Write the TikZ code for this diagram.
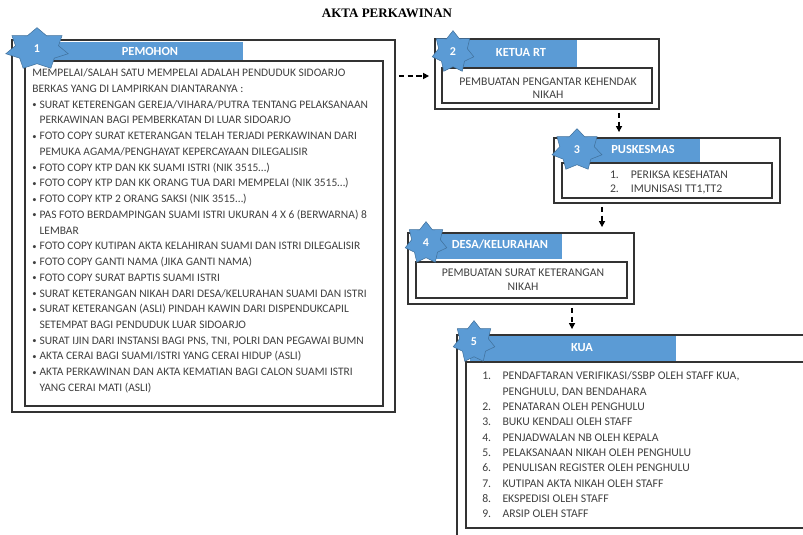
\documentclass[tikz,border=0pt]{standalone}
\usepackage{fontspec}
\setmainfont{Carlito}
\newfontfamily\judulfont{Liberation Serif}
\usetikzlibrary{shapes.geometric,fit,arrows.meta}
\definecolor{biru}{HTML}{5B9BD5}
\definecolor{birutua}{HTML}{41719C}
\definecolor{teks}{HTML}{404040}
\newcommand\bul{\makebox[5.5pt][l]{\raisebox{0.4pt}{\scalebox{0.75}{\textbullet}}}}
\newcommand\lanjut{\hspace*{5.5pt}}

\begin{document}
\begin{tikzpicture}[x=0.75pt,y=-0.75pt,
  kotak/.style={draw=black!80,line width=0.9pt,inner sep=0pt},
  pita/.style={fill=biru},
  bintang/.style={star,star points=7,star point ratio=1.45,fill=biru,draw=birutua,line width=0.4pt,minimum size=32pt,inner sep=0pt},
  nomor/.style={text=white,font=\fontsize{9}{10}\selectfont\bfseries},
  judulpita/.style={text=white,font=\fontsize{9.3}{10}\selectfont\bfseries},
  isi/.style={text=teks,inner sep=0pt,font=\fontsize{8.6}{11.8}\selectfont},
  alur/.style={line width=1.3pt,dash pattern=on 4pt off 2.5pt,-{Triangle[length=4.5pt,width=4.5pt]},shorten <=2.5pt,shorten >=4pt}]
  \useasboundingbox (0,0) rectangle (803,535);
  \clip (0,0) rectangle (803,535);

  \node[font=\judulfont\fontsize{9.75}{11}\selectfont\bfseries] (judul) at (387,13) {AKTA PERKAWINAN};

  % pita judul
  \fill[pita] (38,42) rectangle (243,61);
  \fill[pita] (450,40) rectangle (577,67);
  \fill[pita] (570,139) rectangle (700,163);
  \fill[pita] (430,234) rectangle (562,259);
  \fill[pita] (470,336) rectangle (676,361);

  % kotak luar / dalam
  \node[kotak,fit={(12,40) (395,412)}] (pemohon) {};
  \node[kotak,fit={(25,61) (383,406)}] (pemohon-isi) {};
  \node[kotak,fit={(435,39) (659,109)}] (ketua) {};
  \node[kotak,fit={(442,68) (652,103)}] (ketua-isi) {};
  \node[kotak,fit={(554,138) (780,203)}] (puskesmas) {};
  \node[kotak,fit={(562,163) (772,198)}] (puskesmas-isi) {};
  \node[kotak,fit={(408,233) (634,304)}] (desa) {};
  \node[kotak,fit={(416,262) (627,298)}] (desa-isi) {};
  \node[kotak,fit={(457,335) (840,550)}] (kua) {};
  \node[kotak,fit={(466,362) (840,528)}] (kua-isi) {};

  % bintang nomor
  \foreach \n/\x/\y/\sx in {1/37/49/1.5,2/453/52/1,3/577/150/1.2,4/426/243/1,5/474/342/1}{
    \begin{scope}[shift={(\x,\y)},xscale=\sx]
      \node[bintang,transform shape] (bintang\n) at (0,0) {};
    \end{scope}
    \node[nomor] (nomor\n) at (bintang\n) {\n};
  }

  \node[judulpita] (tpemohon) at (150,51) {PEMOHON};
  \node[judulpita] (tketua) at (521,53) {KETUA RT};
  \node[judulpita] (tpuskesmas) at (643,149) {PUSKESMAS};
  \node[judulpita] (tdesa) at (500,244) {DESA/KELURAHAN};
  \node[judulpita] (tkua) at (582,348) {KUA};

  \node[isi,anchor=north west] (syarat) at (32,65.5) {\begin{tabular}{@{}l@{}}
    MEMPELAI/SALAH SATU MEMPELAI ADALAH PENDUDUK SIDOARJO\\
    BERKAS YANG DI LAMPIRKAN DIANTARANYA :\\
    \bul SURAT KETERENGAN GEREJA/VIHARA/PUTRA TENTANG PELAKSANAAN\\
    \lanjut PERKAWINAN BAGI PEMBERKATAN DI LUAR SIDOARJO\\
    \bul FOTO COPY SURAT KETERANGAN TELAH TERJADI PERKAWINAN DARI\\
    \lanjut PEMUKA AGAMA/PENGHAYAT KEPERCAYAAN DILEGALISIR\\
    \bul FOTO COPY KTP DAN KK SUAMI ISTRI (NIK 3515\ldots)\\
    \bul FOTO COPY KTP DAN KK ORANG TUA DARI MEMPELAI (NIK 3515\ldots)\\
    \bul FOTO COPY KTP 2 ORANG SAKSI (NIK 3515\ldots)\\
    \bul PAS FOTO BERDAMPINGAN SUAMI ISTRI UKURAN 4 X 6 (BERWARNA) 8\\
    \lanjut LEMBAR\\
    \bul FOTO COPY KUTIPAN AKTA KELAHIRAN SUAMI DAN ISTRI DILEGALISIR\\
    \bul FOTO COPY GANTI NAMA (JIKA GANTI NAMA)\\
    \bul FOTO COPY SURAT BAPTIS SUAMI ISTRI\\
    \bul SURAT KETERANGAN NIKAH DARI DESA/KELURAHAN SUAMI DAN ISTRI\\
    \bul SURAT KETERANGAN (ASLI) PINDAH KAWIN DARI DISPENDUKCAPIL\\
    \lanjut SETEMPAT BAGI PENDUDUK LUAR SIDOARJO\\
    \bul SURAT IJIN DARI INSTANSI BAGI PNS, TNI, POLRI DAN PEGAWAI BUMN\\
    \bul AKTA CERAI BAGI SUAMI/ISTRI YANG CERAI HIDUP (ASLI)\\
    \bul AKTA PERKAWINAN DAN AKTA KEMATIAN BAGI CALON SUAMI ISTRI\\
    \lanjut YANG CERAI MATI (ASLI)
  \end{tabular}};

  \node[isi,font=\fontsize{8.8}{9.75}\selectfont] (pengantar) at (548,89) {\begin{tabular}{@{}c@{}}
    PEMBUATAN PENGANTAR KEHENDAK\\ NIKAH\end{tabular}};
  \node[isi,font=\fontsize{8.8}{10.5}\selectfont] (periksa) at (669,182.5) {\begin{tabular}{@{}l@{\hspace{9pt}}l@{}}
    1. & PERIKSA KESEHATAN\\ 2. & IMUNISASI TT1,TT2\end{tabular}};
  \node[isi,font=\fontsize{8.8}{10.5}\selectfont] (sket) at (523,280.5) {\begin{tabular}{@{}c@{}}
    PEMBUATAN SURAT KETERANGAN\\ NIKAH\end{tabular}};

  \node[isi,anchor=north west,font=\fontsize{8.8}{11.5}\selectfont] (langkah) at (482,368.8) {\begin{tabular}{@{}l@{\hspace{8.5pt}}l@{}}
    1. & PENDAFTARAN VERIFIKASI/SSBP OLEH STAFF KUA,\\
       & PENGHULU, DAN BENDAHARA\\
    2. & PENATARAN OLEH PENGHULU\\
    3. & BUKU KENDALI OLEH STAFF\\
    4. & PENJADWALAN NB OLEH KEPALA\\
    5. & PELAKSANAAN NIKAH OLEH PENGHULU\\
    6. & PENULISAN REGISTER OLEH PENGHULU\\
    7. & KUTIPAN AKTA NIKAH OLEH STAFF\\
    8. & EKSPEDISI OLEH STAFF\\
    9. & ARSIP OLEH STAFF
  \end{tabular}};

  % panah alur
  \draw[alur] (pemohon.east |- 0,76) -- (ketua.west |- 0,76);
  \draw[alur] (ketua.south -| 619,0) -- (puskesmas.north -| 619,0);
  \draw[alur] (puskesmas.south -| 602,0) -- (desa.north -| 602,0);
  \draw[alur] (desa.south -| 572,0) -- (kua.north -| 572,0);
\end{tikzpicture}
\end{document}
